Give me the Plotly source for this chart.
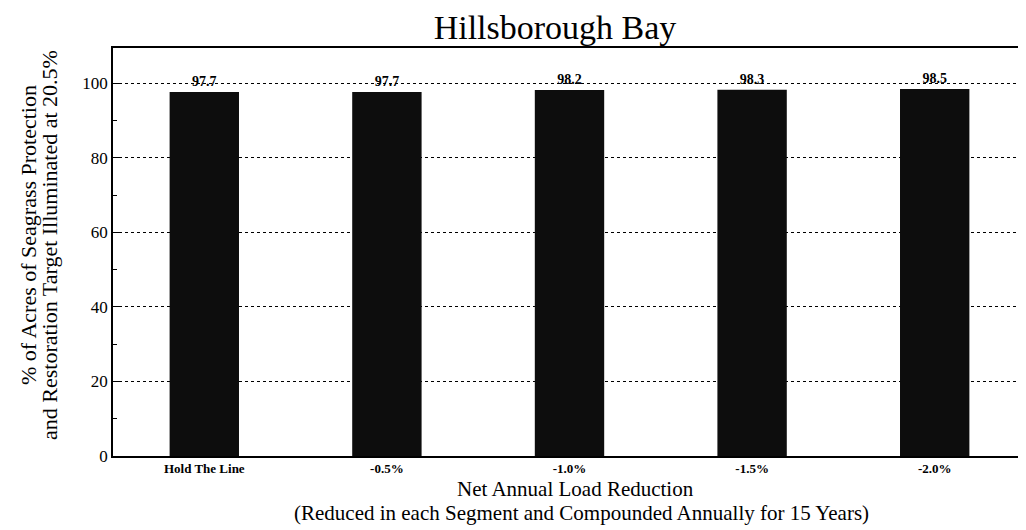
import plotly.graph_objects as go

categories = ["Hold The Line", "-0.5%", "-1.0%", "-1.5%", "-2.0%"]
values = [97.7, 97.7, 98.2, 98.3, 98.5]
value_labels = ["97.7", "97.7", "98.2", "98.3", "98.5"]
y_ticks = [0, 20, 40, 60, 80, 100]

serif = "Liberation Serif, Times New Roman, serif"

OFF = 8  # default page body margin
W, H = 1026 - OFF, 530 - OFF
L, R, T, B = 113 - OFF, 0, 48 - OFF, 530 - 456
PW, PH = W - L - R, H - T - B


def px(x):
    return (x - OFF - L) / PW


def py(y):
    return (H - B - (y - OFF)) / PH


fig = go.Figure(go.Bar(
    x=categories, y=values,
    text=value_labels, textposition="outside",
    textfont=dict(family=serif, size=14, color="black"),
    texttemplate="<b>%{text}</b>",
    marker=dict(color="#0d0d0d", line=dict(width=0)),
    cliponaxis=False,
))

fig.update_layout(
    width=W, height=H,
    margin=dict(l=L, r=R, t=T, b=B),
    paper_bgcolor="white", plot_bgcolor="white",
    bargap=0.62,
    showlegend=False,
    title=dict(text="Hillsborough Bay", x=(555 - OFF) / W, xanchor="center",
               y=1 - (27 - OFF) / H, yanchor="middle",
               font=dict(family=serif, size=34, color="black")),
    font=dict(family=serif, color="black"),
)

fig.update_xaxes(
    showline=True, linecolor="black", linewidth=1.5, mirror=True,
    ticks="", tickfont=dict(family=serif, size=13, color="black"),
    tickvals=categories, ticktext=["<b>%s</b>" % c for c in categories],
    automargin=False,
)

fig.update_yaxes(
    range=[0, 109.5], tickvals=y_ticks,
    showline=True, linecolor="black", linewidth=1.5, mirror=True,
    ticks="inside", ticklen=6, tickcolor="black",
    minor=dict(dtick=10, ticks="inside", ticklen=4, tickcolor="black", showgrid=False),
    showgrid=True, gridcolor="black", griddash="dot", gridwidth=1,
    zeroline=False, automargin=False,
    tickfont=dict(family=serif, size=17, color="black"),
)

title_font = dict(family=serif, size=22, color="black")
xt_font = dict(family=serif, size=21, color="black")
annots = [
    dict(text="Net Annual Load Reduction", x=px(575), y=py(489), font=xt_font),
    dict(text="(Reduced in each Segment and Compounded Annually for 15 Years)", x=px(581), y=py(513), font=xt_font),
    dict(text="% of Acres of Seagrass Protection", x=px(28), y=py(235), textangle=-90, font=title_font),
    dict(text="and Restoration Target Illuminated at 20.5%", x=px(50), y=py(245), textangle=-90, font=title_font),
]
for a in annots:
    fig.add_annotation(xref="paper", yref="paper", xanchor="center", yanchor="middle",
                       showarrow=False, **a)

fig.write_html("out.html")
